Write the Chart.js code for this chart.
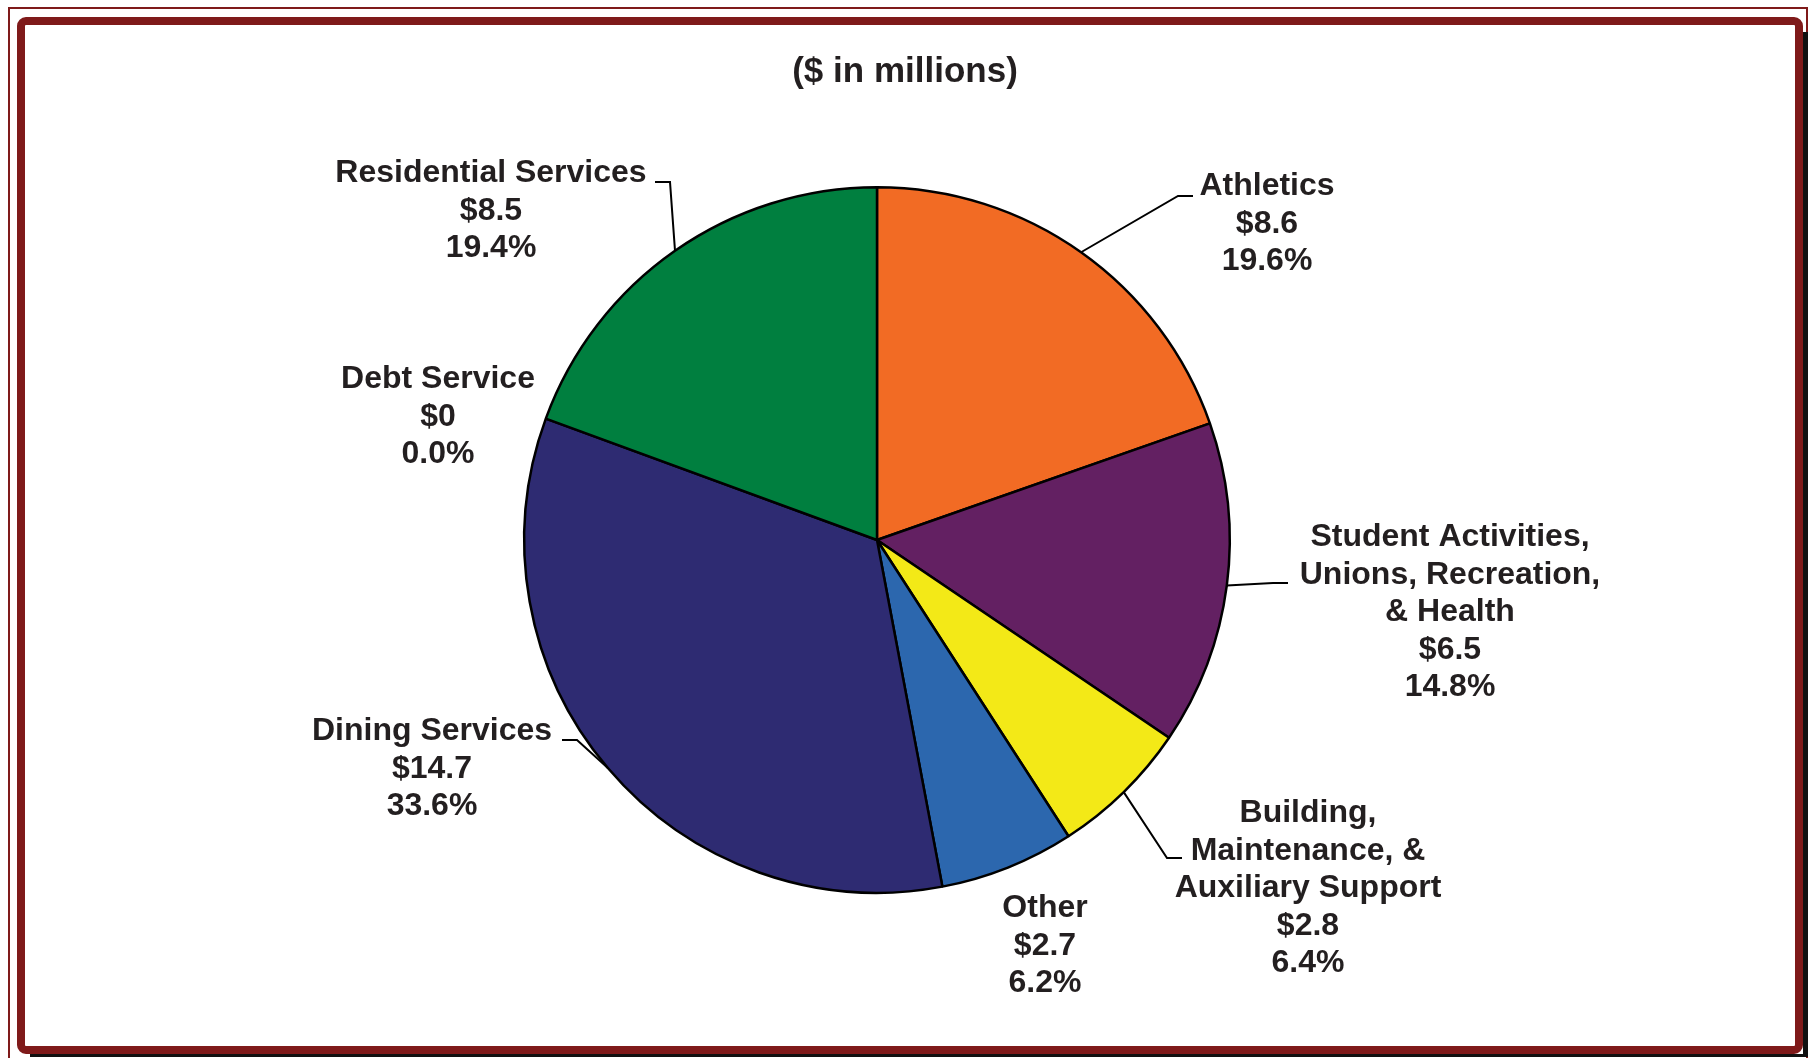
<!DOCTYPE html>
<html>
<head>
<meta charset="utf-8">
<script src="https://cdn.jsdelivr.net/npm/chart.js@4/dist/chart.umd.min.js"></script>
<style>
  html, body { margin: 0; padding: 0; background: #fff; }
  #wrap { position: relative; width: 1811px; height: 1058px; overflow: hidden; }
  .thin { position: absolute; left: 8px; top: 7px; width: 1800px; height: 1080px;
          border: 2px solid #7f1a1a; box-sizing: border-box; }
  .frame { position: absolute; left: 17px; top: 17px; width: 1786px; height: 1037px;
           border: 8px solid #7f1a1a; border-radius: 9px; box-sizing: border-box; background: #fff; }
  .shadowR { position: absolute; left: 1803px; top: 32px; width: 5px; height: 1025px; background: #111; }
  .shadowB { position: absolute; left: 30px; top: 1054px; width: 1778px; height: 3px; background: #111; }
  canvas { position: absolute; left: 0; top: 0; }
</style>
</head>
<body>
<div id="wrap">
  <div class="thin"></div>
  <div class="shadowR"></div>
  <div class="shadowB"></div>
  <div class="frame"></div>
  <canvas id="pie" width="1811" height="1058"></canvas>
</div>
<script>
// spending by area, $ in millions
var categories = ['Athletics', 'Student Activities, Unions, Recreation, & Health',
  'Building, Maintenance, & Auxiliary Support', 'Other', 'Dining Services', 'Debt Service',
  'Residential Services'];
var amounts = [8.6, 6.5, 2.8, 2.7, 14.7, 0, 8.5];
var amountText = ['$8.6', '$6.5', '$2.8', '$2.7', '$14.7', '$0', '$8.5'];
var sliceColors = ['#f26b24', '#632062', '#f3e917', '#2c67ae', '#2e2b72', '#444444', '#007f3f'];

// how each label wraps
var labelLines = [
  ['Athletics'],
  ['Student Activities,', 'Unions, Recreation,', '& Health'],
  ['Building,', 'Maintenance, &', 'Auxiliary Support'],
  ['Other'],
  ['Dining Services'],
  ['Debt Service'],
  ['Residential Services'],
];

// label placement: centre x, first baseline, leader elbow and end (null = no leader)
var labelPos = [
  {x: 1267, y: 195, elbow: [1178, 196], end: [1193, 196]},
  {x: 1450, y: 546, elbow: [1273, 583], end: [1288, 583]},
  {x: 1308, y: 822, elbow: [1167, 858], end: [1182, 858]},
  {x: 1045, y: 917, elbow: null},
  {x: 432, y: 740, elbow: [577, 740], end: [562, 740]},
  {x: 438, y: 388, elbow: null},
  {x: 491, y: 182, elbow: [670, 182], end: [655, 182]},
];

var total = amounts.reduce((a, b) => a + b, 0);
var FONT = 'bold 32px "Liberation Sans", Arial, sans-serif';
var TITLE_FONT = 'bold 35px "Liberation Sans", Arial, sans-serif';
var INK = '#231f20';

const calloutPlugin = {
  id: 'callouts',
  afterDraw(chart) {
    const ctx = chart.ctx;
    const meta = chart.getDatasetMeta(0);
    ctx.save();
    ctx.fillStyle = INK;
    ctx.textAlign = 'center';
    ctx.textBaseline = 'alphabetic';
    // title
    ctx.font = TITLE_FONT;
    ctx.fillText('($ in millions)', 905, 82);

    ctx.font = FONT;
    meta.data.forEach((arc, i) => {
      const pos = labelPos[i];
      const pct = (amounts[i] / total * 100).toFixed(1) + '%';
      const lines = labelLines[i].concat([amountText[i], pct]);
      lines.forEach((t, k) => {
        ctx.fillText(t, pos.x, pos.y + k * 37.6);
      });
      if (pos.elbow) {
        const p = arc.getProps(['x', 'y', 'startAngle', 'endAngle', 'outerRadius'], true);
        const mid = (p.startAngle + p.endAngle) / 2;
        const sx = p.x + Math.cos(mid) * p.outerRadius;
        const sy = p.y + Math.sin(mid) * p.outerRadius;
        ctx.beginPath();
        ctx.moveTo(sx, sy);
        ctx.lineTo(pos.elbow[0], pos.elbow[1]);
        ctx.lineTo(pos.end[0], pos.end[1]);
        ctx.strokeStyle = '#000';
        ctx.lineWidth = 2;
        ctx.stroke();
      }
    });
    ctx.restore();
  }
};

new Chart(document.getElementById('pie').getContext('2d'), {
  type: 'pie',
  data: {
    labels: categories,
    datasets: [{
      data: amounts,
      backgroundColor: sliceColors,
      borderColor: '#000',
      borderWidth: 2.5,
    }],
  },
  options: {
    responsive: false,
    animation: false,
    events: [],
    rotation: 0,
    layout: {
      padding: {top: 186, bottom: 164, left: 523, right: 580},
    },
    plugins: {
      legend: {display: false},
      tooltip: {enabled: false},
    },
  },
  plugins: [calloutPlugin],
});
</script>
</body>
</html>
